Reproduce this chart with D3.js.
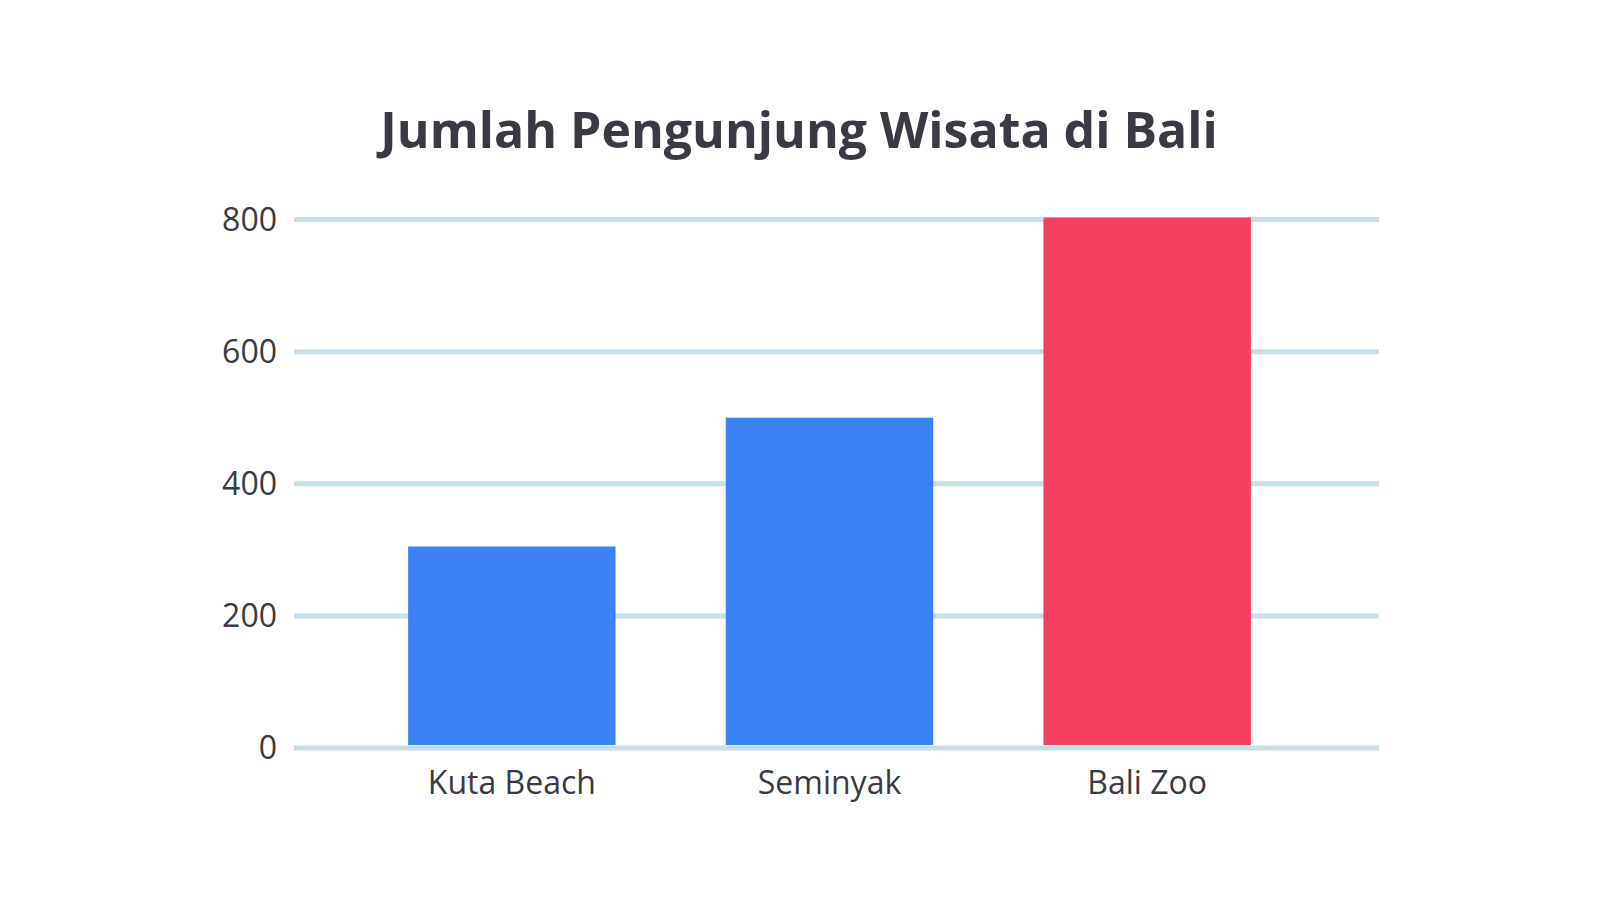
<!DOCTYPE html>
<html><head><meta charset="utf-8">
<script src="https://cdn.jsdelivr.net/npm/d3@7"></script>
<style>body{margin:0;background:#fff}svg{font-family:"Open Sans",sans-serif}</style>
</head><body><svg id="c" width="1600" height="900"></svg>
<script>
const categories = ["Kuta Beach","Seminyak","Bali Zoo"];
const values = [305, 500, 803];
const colors = ["#3b82f4","#3b82f4","#f43f5e"];
const tickValues = [0,200,400,600,800];

const svg = d3.select("#c");
const y = d3.scaleLinear().domain([0,800]).range([748,219.5]);
const x = d3.scaleBand().domain(categories).range([353,1306]).paddingInner(0.347).paddingOuter(0.1735);

svg.append("text").attr("x",799).attr("y",148).attr("text-anchor","middle")
  .attr("font-size",50).attr("font-weight",700).attr("fill","#3a3a45").text("Jumlah Pengunjung Wisata di Bali");

svg.selectAll(".grid").data(tickValues).join("line")
  .attr("x1",294).attr("x2",1379).attr("y1",d=>y(d)).attr("y2",d=>y(d))
  .attr("stroke","#c3dfec").attr("stroke-width",5);

svg.selectAll(".yl").data(tickValues).join("text")
  .attr("x",277).attr("y",d=>y(d)+11).attr("text-anchor","end")
  .attr("font-size",32).attr("fill","#3a3a45").text(d=>d);

svg.selectAll(".bar").data(values).join("rect")
  .attr("x",(d,i)=>x(categories[i])).attr("width",x.bandwidth())
  .attr("y",d=>y(d)).attr("height",d=>y(0)-3-y(d))
  .attr("fill",(d,i)=>colors[i]);

svg.selectAll(".xl").data(categories).join("text")
  .attr("x",d=>x(d)+x.bandwidth()/2).attr("y",794).attr("text-anchor","middle")
  .attr("font-size",32).attr("fill","#3a3a45").text(d=>d);
</script></body></html>
